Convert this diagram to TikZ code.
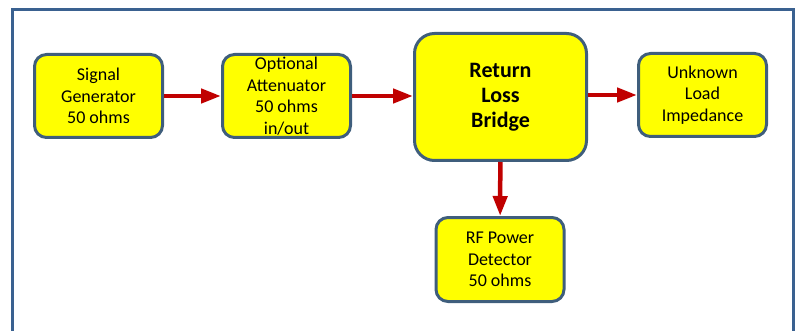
\documentclass[tikz,border=0pt]{standalone}
\usepackage{fontspec}
\setmainfont{Carlito}
\usetikzlibrary{arrows.meta, positioning}
\usepackage{xcolor}
\definecolor{framecol}{HTML}{3A6190}
\definecolor{edgecol}{HTML}{3F5E7C}
\definecolor{boxfill}{HTML}{FFFF00}
\definecolor{arrowcol}{HTML}{C00000}

\begin{document}
\begin{tikzpicture}[
x=1pt, y=-1pt,
block/.style={draw=edgecol, line width=3pt, fill=boxfill,
rectangle, rounded corners=12pt,
minimum width=128pt, minimum height=83pt,
align=center, inner sep=2pt,
font=\fontsize{18}{21.5}\selectfont},
bigblock/.style={block, rounded corners=20pt,
minimum width=172pt, minimum height=127pt,
font=\fontsize{22}{25}\selectfont\bfseries},
arrow/.style={-{Triangle[length=20pt, width=14pt]}, draw=arrowcol,
line width=4.5pt}
]
\useasboundingbox (0,0) rectangle (800,331);

% outer frame, its lower edge lies beyond the picture
\begin{scope}
\clip (0,0) rectangle (800,331);
\draw[framecol, line width=3pt] (12,10) rectangle (793,345);
\end{scope}

\node[block] (gen) at (98.5,96) {Signal\\Generator\\50 ohms};
\node[block, right=57pt of gen] (att) {Optional\\Attenuator\\50 ohms\\in/out};
\node[bigblock] (bridge) at (500.5,97) {Return\\Loss\\Bridge};
\node[block] (load) at (702.5,95) {Unknown\\Load\\Impedance};
\node[block, minimum height=84pt] (det) at (500,259.5) {RF Power\\Detector\\50 ohms};

\draw[arrow] (gen) -- (att);
\draw[arrow] (att) -- (att -| bridge.west);
\draw[arrow] (bridge.east |- load) -- (load);
\draw[arrow] (bridge) -- (det);

\end{tikzpicture}
\end{document}
